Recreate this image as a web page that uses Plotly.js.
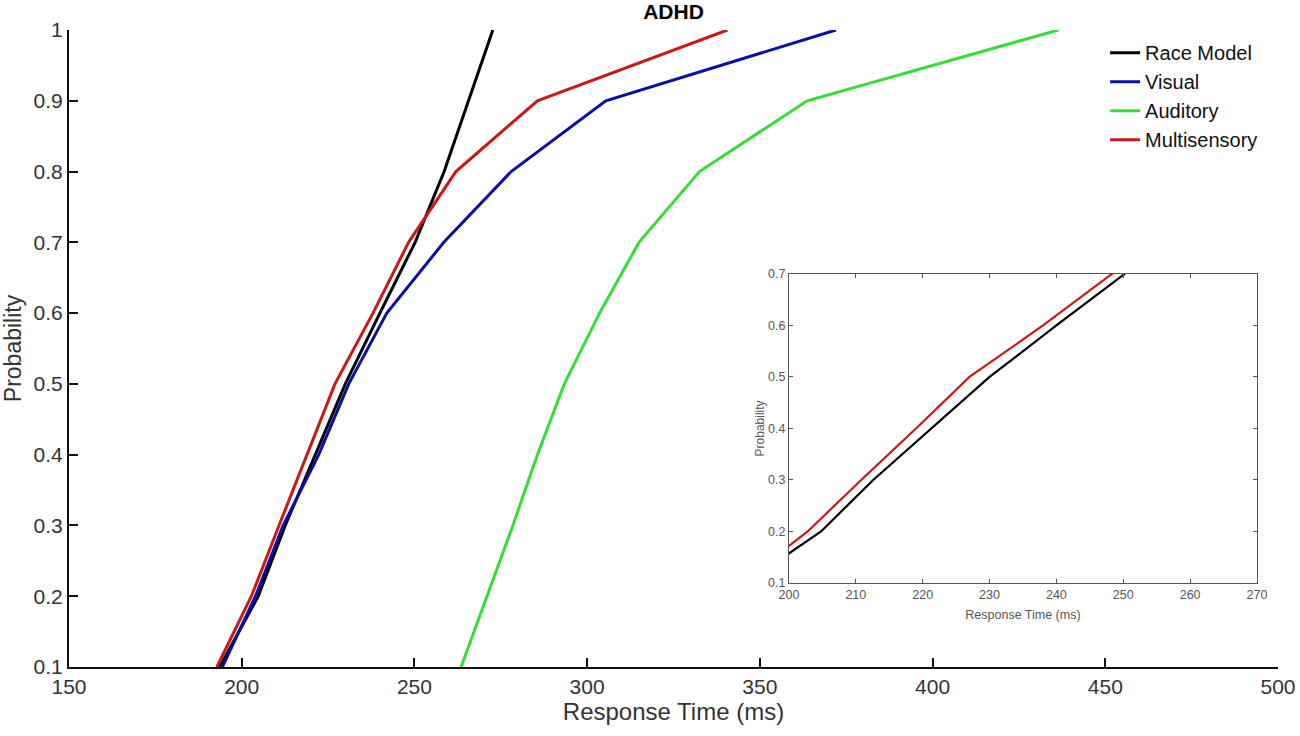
<!DOCTYPE html>
<html>
<head>
<meta charset="utf-8">
<script src="https://cdn.plot.ly/plotly-3.0.1.min.js"></script>
<style>
	body { margin: 0; background: #fff; }
	#plot { width: 1300px; height: 736px; }
</style>
</head>
<body>
<div id="plot"></div>
<script>
// cumulative probabilities (deciles) and response times
var probability = [0.1, 0.2, 0.3, 0.4, 0.5, 0.6, 0.7, 0.8, 0.9, 1.0];
var raceModelRT = [193.6, 204.8, 212.6, 221.3, 230, 240, 250.2, 258.6, 265.6, 272.7];
var visualRT = [194.4, 204, 212, 222.3, 231, 242, 258.5, 278, 305.4, 372];
var auditoryRT = [263.5, 271, 278.5, 285.6, 293.4, 303.6, 315, 332.5, 363.7, 436.4];
var multisensoryRT = [192.8, 202.8, 210.8, 219, 227, 238, 248.3, 262, 285.6, 340.6];

var seriesNames = ['Race Model', 'Visual', 'Auditory', 'Multisensory'];
var seriesColors = ['#000000', '#0c0ca8', '#35de35', '#c81818'];

var mainXTicks = [150, 200, 250, 300, 350, 400, 450, 500];
var insetXTicks = [200, 210, 220, 230, 240, 250, 260, 270];
var insetYTicks = [0.1, 0.2, 0.3, 0.4, 0.5, 0.6, 0.7];

var FONT = 'Liberation Sans, Arial, sans-serif';

function buildPlot() {
	let allRT = [raceModelRT, visualRT, auditoryRT, multisensoryRT];
	let data = [];

	// main curves
	for (var i = 0; i < allRT.length; i++) {
		data.push({
			x: allRT[i],
			y: probability,
			type: 'scatter',
			mode: 'lines',
			name: seriesNames[i],
			line: {color: seriesColors[i], width: 3}
		});
	}

	// inset: race model vs multisensory, zoomed in
	let insetIdx = [0, 3];
	for (var k = 0; k < insetIdx.length; k++) {
		let idx = insetIdx[k];
		data.push({
			x: allRT[idx],
			y: probability,
			xaxis: 'x2',
			yaxis: 'y2',
			type: 'scatter',
			mode: 'lines',
			showlegend: false,
			line: {color: seriesColors[idx], width: 2.2}
		});
	}

	let layout = {
		width: 1300,
		height: 736,
		margin: {l: 69, r: 22, t: 30, b: 69},
		paper_bgcolor: '#ffffff',
		plot_bgcolor: '#ffffff',
		font: {family: FONT, color: '#222'},
		showlegend: true,
		legend: {
			x: 0.857, y: 0.995, xanchor: 'left', yanchor: 'top',
			bgcolor: 'rgba(0,0,0,0)',
			font: {family: FONT, size: 20, color: '#111'},
			itemwidth: 30,
			tracegroupgap: 0
		},
		title: {
			text: '<b>ADHD</b>',
			x: 0.5, xref: 'paper', xanchor: 'center',
			y: 0.984, yanchor: 'middle',
			font: {family: FONT, size: 21, color: '#000'}
		},
		xaxis: {
			range: [150, 500],
			tickvals: mainXTicks,
			ticks: 'inside', ticklen: 9, tickwidth: 2, tickcolor: '#111',
			showline: true, linecolor: '#111', linewidth: 2,
			showgrid: false, zeroline: false,
			tickfont: {family: FONT, size: 21, color: '#333'},
			title: {text: 'Response Time (ms)', font: {family: FONT, size: 24, color: '#333'}, standoff: 6}
		},
		yaxis: {
			range: [0.1, 1],
			dtick: 0.1, tick0: 0.1,
			ticks: 'inside', ticklen: 9, tickwidth: 2, tickcolor: '#111',
			showline: true, linecolor: '#111', linewidth: 2,
			showgrid: false, zeroline: false,
			ticklabelstandoff: 0,
			tickfont: {family: FONT, size: 21, color: '#333'},
			title: {text: 'Probability', font: {family: FONT, size: 23, color: '#333'}, standoff: 6}
		},
		xaxis2: {
			domain: [0.5955, 0.9826],
			anchor: 'y2',
			range: [200, 270],
			tickvals: insetXTicks,
			ticks: 'inside', ticklen: 4, tickcolor: '#555',
			showline: true, mirror: 'ticks', linecolor: '#555', linewidth: 1,
			showgrid: false, zeroline: false,
			tickfont: {family: FONT, size: 12.5, color: '#555'},
			title: {text: 'Response Time (ms)', font: {family: FONT, size: 12.5, color: '#555'}, standoff: 9}
		},
		yaxis2: {
			domain: [0.132, 0.617],
			anchor: 'x2',
			range: [0.1, 0.7],
			tickvals: insetYTicks,
			ticks: 'inside', ticklen: 4, tickcolor: '#555',
			showline: true, mirror: 'ticks', linecolor: '#555', linewidth: 1,
			showgrid: false, zeroline: false,
			tickfont: {family: FONT, size: 12.5, color: '#555'},
			title: {text: 'Probability', font: {family: FONT, size: 12, color: '#555'}, standoff: 0}
		}
	};

	Plotly.newPlot('plot', data, layout, {displayModeBar: false, staticPlot: true});
}

buildPlot();
</script>
</body>
</html>
